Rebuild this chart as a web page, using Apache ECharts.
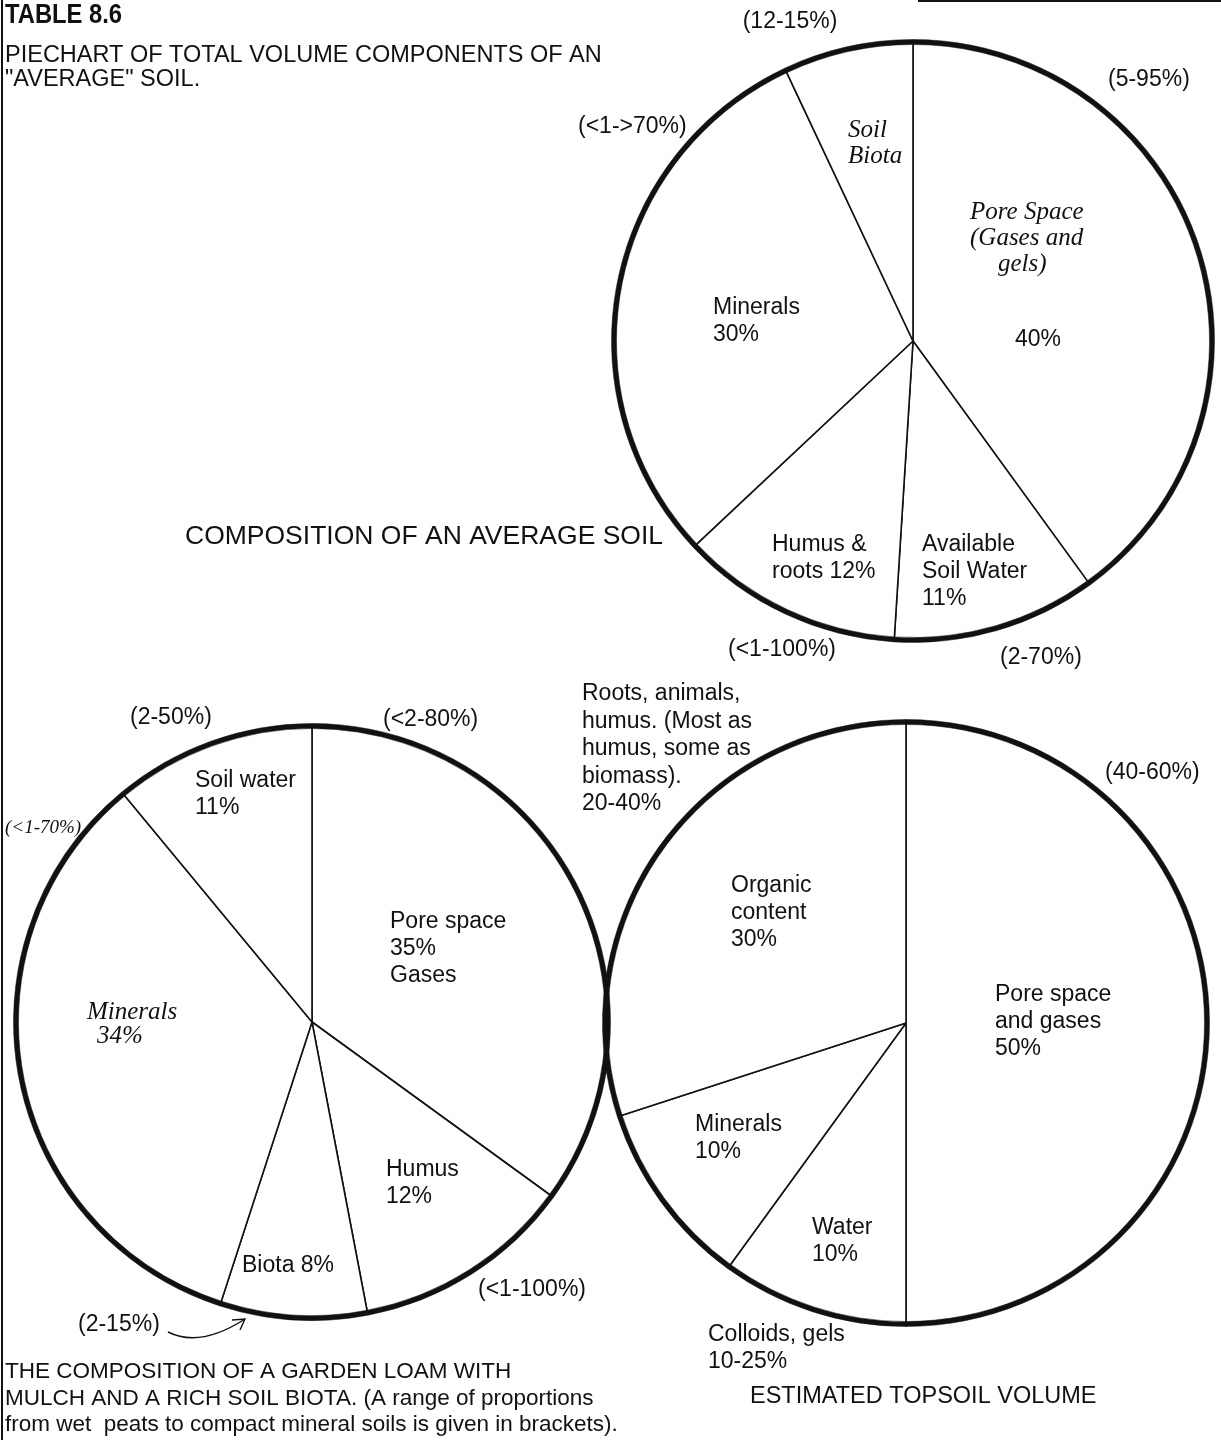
<!DOCTYPE html>
<html>
<head>
<meta charset="utf-8">
<title>Total volume components of an average soil</title>
<script src="https://cdn.jsdelivr.net/npm/echarts@6/dist/echarts.min.js"></script>
<style>
  html, body { margin: 0; padding: 0; background: #fff; }
  #chart { width: 1221px; height: 1455px; }
</style>
</head>
<body>
<div id="chart"></div>
<script>
// ---- data (clockwise from 12 o'clock) ----
const avgNames = ['Pore Space (Gases and gels)', 'Available Soil Water', 'Humus & roots', 'Minerals', 'Soil Biota'];
const avgValues = [40, 11, 12, 30, 7];
const avgRanges = ['(5-95%)', '(2-70%)', '(<1-100%)', '(<1->70%)', '(12-15%)'];

const loamNames = ['Pore space Gases', 'Humus', 'Biota', 'Minerals', 'Soil water'];
const loamValues = [35, 12, 8, 34, 11];
const loamRanges = ['(<2-80%)', '(<1-100%)', '(2-15%)', '(<1-70%)', '(2-50%)'];

const topNames = ['Pore space and gases', 'Water', 'Minerals', 'Organic content'];
const topValues = [50, 10, 10, 30];
const topRanges = ['(40-60%)', 'Colloids, gels\n10-25%', '', '20-40%'];

const INK = '#111';
const SANS = '"Liberation Sans", Arial, Helvetica, sans-serif';
const HAND = '"Liberation Serif", "DejaVu Serif", serif';

function toData(names, values) {
  return names.map((n, i) => ({ name: n, value: values[i] }));
}

// one pie = white sectors with thin radial lines + a black ring on the same data for the thick rim
function pieSeries(names, values, center, r) {
  const data = toData(names, values);
  return [
    {
      type: 'pie',
      center,
      radius: [0, r],
      startAngle: 90,
      clockwise: true,
      silent: true,
      animation: false,
      label: { show: false },
      labelLine: { show: false },
      itemStyle: { color: '#fff', borderColor: INK, borderWidth: 1.6 },
      data,
    },
    {
      type: 'pie',
      center,
      radius: [r - 2.5, r + 2.5],
      startAngle: 90,
      clockwise: true,
      silent: true,
      animation: false,
      z: 3,
      label: { show: false },
      labelLine: { show: false },
      itemStyle: { color: INK, borderColor: INK, borderWidth: 0.5 },
      data,
    },
  ];
}

// text helper: (x, y) = left edge and vertical centre of the first line
function txt(x, y, text, opt = {}) {
  const size = opt.size || (opt.hand ? 25 : 23);
  const lh = opt.lh || 27;
  const family = opt.hand ? HAND : SANS;
  const style = (opt.hand ? 'italic ' : '') + (opt.bold ? 'bold ' : '');
  return {
    type: 'text',
    x,
    y: y - lh / 2,
    z: 100,
    scaleX: opt.sx || 1,
    silent: true,
    style: {
      text,
      x: 0,
      y: 0,
      font: style + size + 'px ' + family,
      fill: INK,
      align: opt.align || 'left',
      verticalAlign: 'top',
      lineHeight: lh,
    },
  };
}

const pct = (v) => v + '%';

const texts = [
  // header
  txt(5, 16, 'TABLE 8.6', { bold: true, size: 27, sx: 0.88, lh: 30 }),
  txt(5, 56, 'PIECHART OF TOTAL VOLUME COMPONENTS OF AN\n"AVERAGE" SOIL.', { size: 23.5, lh: 24 }),

  // composition of an average soil
  txt(790, 22, avgRanges[4], { align: 'center' }),
  txt(1108, 80, avgRanges[0]),
  txt(578, 127, avgRanges[3]),
  txt(848, 130, 'Soil\nBiota', { hand: true, lh: 26 }),
  txt(970, 212, 'Pore Space\n(Gases and', { hand: true, lh: 26 }),
  txt(998, 264, 'gels)', { hand: true }),
  txt(1015, 340, pct(avgValues[0])),
  txt(713, 308, 'Minerals\n' + pct(avgValues[3])),
  txt(772, 545, 'Humus &\nroots ' + pct(avgValues[2])),
  txt(922, 545, 'Available\nSoil Water\n' + pct(avgValues[1])),
  txt(185, 537, 'COMPOSITION OF AN AVERAGE SOIL', { size: 26.5 }),
  txt(728, 650, avgRanges[2]),
  txt(1000, 658, avgRanges[1]),

  // garden loam
  txt(130, 718, loamRanges[4]),
  txt(383, 720, loamRanges[0]),
  txt(195, 781, 'Soil water\n' + pct(loamValues[4])),
  txt(5, 828, loamRanges[3], { hand: true, size: 19 }),
  txt(390, 922, 'Pore space\n' + pct(loamValues[0]) + '\nGases'),
  txt(87, 1012, 'Minerals', { hand: true }),
  txt(97, 1036, pct(loamValues[3]), { hand: true }),
  txt(386, 1170, 'Humus\n' + pct(loamValues[1])),
  txt(242, 1266, 'Biota ' + pct(loamValues[2])),
  txt(478, 1290, loamRanges[1]),
  txt(78, 1325, loamRanges[2]),
  txt(5, 1372, 'THE COMPOSITION OF A GARDEN LOAM WITH\nMULCH AND A RICH SOIL BIOTA. (A range of proportions\nfrom wet  peats to compact mineral soils is given in brackets).', { size: 22.5, lh: 26.5 }),

  // estimated topsoil volume
  txt(582, 694, 'Roots, animals,\nhumus. (Most as\nhumus, some as\nbiomass).\n' + topRanges[3], { lh: 27.5 }),
  txt(1105, 773, topRanges[0]),
  txt(731, 886, 'Organic\ncontent\n' + pct(topValues[3])),
  txt(995, 995, 'Pore space\nand gases\n' + pct(topValues[0])),
  txt(695, 1125, 'Minerals\n' + pct(topValues[2])),
  txt(812, 1228, 'Water\n' + pct(topValues[1])),
  txt(708, 1335, topRanges[1]),
  txt(750, 1397, 'ESTIMATED TOPSOIL VOLUME', { size: 23.5 }),
];

const decorations = [
  // page frame remnants
  { type: 'line', silent: true, z: 100, shape: { x1: 2, y1: 0, x2: 2, y2: 1440 }, style: { stroke: INK, lineWidth: 2 } },
  { type: 'line', silent: true, z: 100, shape: { x1: 918, y1: 1, x2: 1221, y2: 1 }, style: { stroke: INK, lineWidth: 2 } },
  // hand-drawn arrow from "(2-15%)" to the biota slice
  { type: 'bezierCurve', silent: true, z: 100, shape: { x1: 168, y1: 1332, cpx1: 200, cpy1: 1348, x2: 245, y2: 1319 }, style: { stroke: INK, lineWidth: 1.4, fill: null } },
  { type: 'polyline', silent: true, z: 100, shape: { points: [[232, 1320], [245, 1319], [240, 1330]] }, style: { stroke: INK, lineWidth: 1.4, fill: null } },
];

const chart = echarts.init(document.getElementById('chart'), null, { renderer: 'canvas' });
chart.setOption({
  backgroundColor: '#fff',
  animation: false,
  series: [
    ...pieSeries(avgNames, avgValues, [913, 341], 299),
    ...pieSeries(loamNames, loamValues, [312, 1022], 296),
    ...pieSeries(topNames, topValues, [906, 1023], 301),
  ],
  graphic: { elements: [...decorations, ...texts] },
});
</script>
</body>
</html>
